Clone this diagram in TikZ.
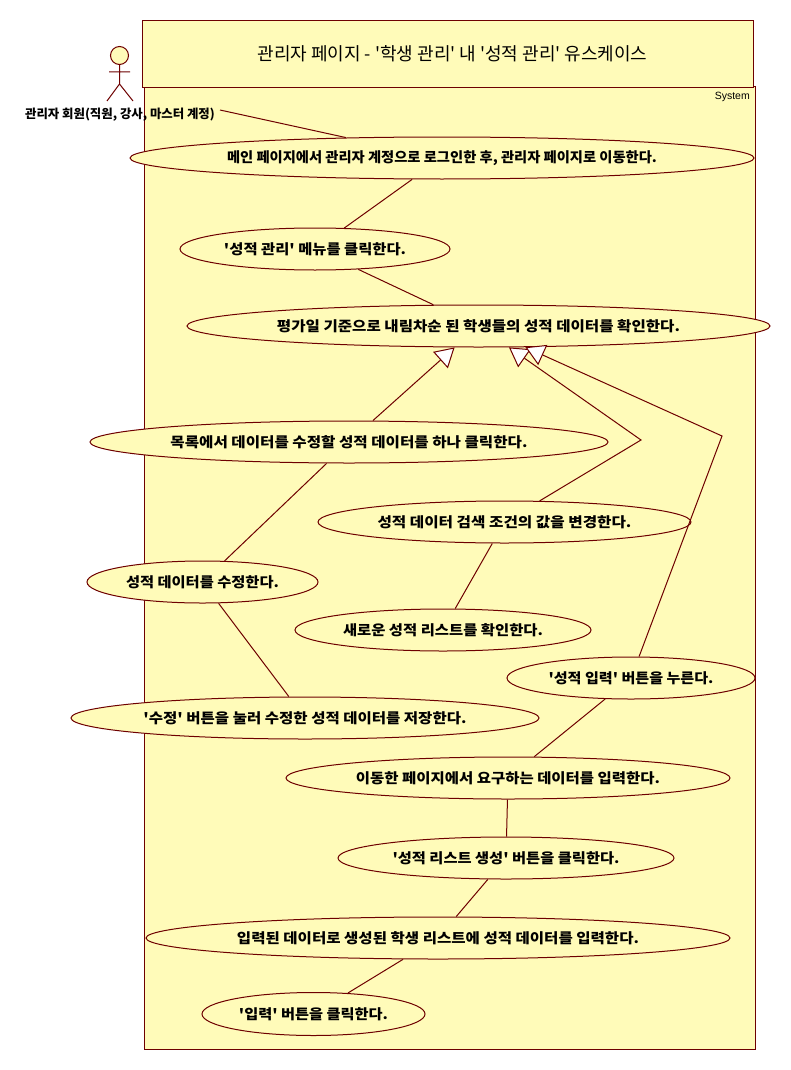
\documentclass[tikz,border=0pt]{standalone}
\usepackage{fontspec}
\setmainfont{Noto Sans CJK KR}
\newfontfamily\krfont{Noto Sans CJK KR}
\newfontfamily\sysfont{Liberation Sans}
\usetikzlibrary{shapes.geometric,arrows.meta}
\definecolor{ucfill}{RGB}{255,251,185}
\definecolor{ucline}{RGB}{110,0,0}
\newcommand{\ct}[2]{\makebox[0pt][c]{\raisebox{-1pt}{\resizebox{#1pt}{\height}{#2}}}}
\tikzset{
  uc/.style={ellipse,draw=ucline,fill=ucfill,line width=1pt,inner sep=0pt,minimum height=42pt,
    font=\krfont\bfseries\fontsize{14}{16}\selectfont,text=black},
  link/.style={draw=ucline,line width=1pt},
  gen/.style={draw=ucline,line width=1pt,-{Triangle[length=19pt,width=22pt,fill=white]}},
  framebox/.style={draw=ucline,fill=ucfill,line width=1pt},
}
\begin{document}
\begin{tikzpicture}[x=1pt,y=-1pt]
\useasboundingbox (0,0) rectangle (790,1070);
\fill[white] (0,0) rectangle (790,1070);
% frames
\path[framebox] (144,87) rectangle (755,1049);
\node[framebox,anchor=north west,inner sep=0pt,minimum width=611pt,minimum height=67pt,font=\krfont\fontsize{18}{21}\selectfont,text=black] (title) at (142,20) {\hspace*{9pt}\raisebox{-2.5pt}{\resizebox{390pt}{\height}{관리자 페이지 - '학생 관리' 내 '성적 관리' 유스케이스}}};
\node[anchor=east,inner sep=0pt,font=\sysfont\fontsize{10.5}{12}\selectfont] (system) at (750,97) {System};
% actor
\draw[link,fill=ucfill] (119.5,55.5) circle (9);
\draw[link] (119.5,64.5) -- (119.5,84) (109,72) -- (130,72) (107,101) -- (119.5,84) -- (133,101);
\node[inner sep=0pt,font=\krfont\bfseries\fontsize{12.4}{14}\selectfont] (actor) at (120,115) {\raisebox{-1.5pt}{관리자 회원(직원, 강사, 마스터 계정)}};
\coordinate (actorend) at (220,110);
\coordinate (bendA) at (641,440);
\coordinate (bendB) at (722,436);
% use cases
\node[uc,minimum width=624pt] (e1) at (442,158) {\ct{430}{메인 페이지에서 관리자 계정으로 로그인한 후, 관리자 페이지로 이동한다.}};
\node[uc,minimum width=270pt] (e2) at (315,249) {\ct{182}{'성적 관리' 메뉴를 클릭한다.}};
\node[uc,minimum width=583pt] (e3) at (478.5,326) {\ct{403}{평가일 기준으로 내림차순 된 학생들의 성적 데이터를 확인한다.}};
\node[uc,minimum width=518pt] (e4) at (349,442) {\ct{357}{목록에서 데이터를 수정할 성적 데이터를 하나 클릭한다.}};
\node[uc,minimum width=373pt] (e5) at (504.5,522) {\ct{254}{성적 데이터 검색 조건의 값을 변경한다.}};
\node[uc,minimum width=231pt] (e6) at (202.5,582) {\ct{153}{성적 데이터를 수정한다.}};
\node[uc,minimum width=296pt] (e7) at (443,630) {\ct{200}{새로운 성적 리스트를 확인한다.}};
\node[uc,minimum width=248pt] (e8) at (631,678) {\ct{165}{'성적 입력' 버튼을 누른다.}};
\node[uc,minimum width=468pt] (e9) at (305,718) {\ct{323}{'수정' 버튼을 눌러 수정한 성적 데이터를 저장한다.}};
\node[uc,minimum width=444pt] (e10) at (508,778) {\ct{304}{이동한 페이지에서 요구하는 데이터를 입력한다.}};
\node[uc,minimum width=336pt] (e11) at (506,858) {\ct{227}{'성적 리스트 생성' 버튼을 클릭한다.}};
\node[uc,minimum width=584pt] (e12) at (438,938) {\ct{402}{입력된 데이터로 생성된 학생 리스트에 성적 데이터를 입력한다.}};
\node[uc,minimum width=223pt,minimum height=43pt] (e13) at (313.5,1014) {\ct{149}{'입력' 버튼을 클릭한다.}};
% connectors
\draw[link] (actorend) -- (e1.168);
\draw[link] (e1) -- (e2);
\draw[link] (e2) -- (e3);
\draw[gen] (e4) -- (e3);
\draw[gen] (e5) -- (bendA) -- (e3);
\draw[gen] (e8) -- (bendB) -- (e3);
\draw[link] (e4) -- (e6);
\draw[link] (e6) -- (e9);
\draw[link] (e5) -- (e7);
\draw[link] (e8) -- (e10);
\draw[link] (e10) -- (e11);
\draw[link] (e11) -- (e12);
\draw[link] (e12) -- (e13);
\end{tikzpicture}
\end{document}
